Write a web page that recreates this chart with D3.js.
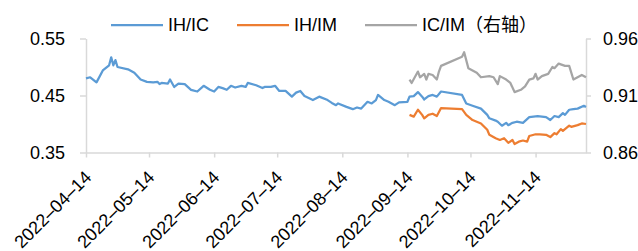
<!DOCTYPE html>
<meta charset="utf-8">
<script src="https://d3js.org/d3.v7.min.js"></script>
<style>
  body { margin: 0; background: #fff; }
  text { font-family: "Liberation Sans", Arial, sans-serif; fill: #000; }
</style>
<svg id="chart" width="638" height="251"></svg>
<script>

// IH/IC ratio (left axis)
var ihicDates = ["2022-04-14","2022-04-16","2022-04-19","2022-04-22","2022-04-25","2022-04-26","2022-04-27","2022-04-28","2022-04-29",
  "2022-05-04","2022-05-07","2022-05-10","2022-05-13","2022-05-16","2022-05-18","2022-05-19","2022-05-20","2022-05-23","2022-05-24","2022-05-26","2022-05-28","2022-05-31",
  "2022-06-03","2022-06-06","2022-06-09","2022-06-12","2022-06-14","2022-06-16","2022-06-18","2022-06-20","2022-06-22","2022-06-24","2022-06-27","2022-06-29","2022-06-30",
  "2022-07-04","2022-07-07","2022-07-08","2022-07-11","2022-07-13","2022-07-15","2022-07-18","2022-07-21","2022-07-23","2022-07-25","2022-07-27","2022-07-31",
  "2022-08-03","2022-08-07","2022-08-09","2022-08-11","2022-08-12","2022-08-16","2022-08-19","2022-08-21","2022-08-23","2022-08-26","2022-08-28","2022-08-30","2022-08-31",
  "2022-09-03","2022-09-05","2022-09-08","2022-09-10","2022-09-14","2022-09-15","2022-09-17","2022-09-19","2022-09-21","2022-09-22","2022-09-24","2022-09-26","2022-09-28","2022-09-30",
  "2022-10-10","2022-10-12","2022-10-15","2022-10-19","2022-10-22","2022-10-23","2022-10-26","2022-10-27","2022-10-29","2022-10-31",
  "2022-11-01","2022-11-03","2022-11-05","2022-11-08","2022-11-11","2022-11-15","2022-11-19","2022-11-21","2022-11-23","2022-11-25","2022-11-27","2022-11-28","2022-11-30",
  "2022-12-02","2022-12-04","2022-12-07","2022-12-08"];
var ihicValues = [0.480,0.482,0.473,0.494,0.503,0.517,0.503,0.512,0.500,
  0.496,0.490,0.478,0.474,0.473,0.474,0.470,0.472,0.471,0.478,0.465,0.471,0.470,
  0.460,0.457,0.467,0.460,0.457,0.465,0.463,0.460,0.467,0.464,0.467,0.465,0.472,
  0.468,0.463,0.465,0.465,0.467,0.458,0.458,0.448,0.455,0.458,0.449,0.442,
  0.448,0.442,0.437,0.433,0.436,0.430,0.426,0.429,0.427,0.439,0.436,0.442,0.451,
  0.442,0.439,0.433,0.438,0.439,0.448,0.449,0.456,0.448,0.443,0.449,0.451,0.448,0.457,
  0.451,0.436,0.432,0.427,0.416,0.410,0.406,0.404,0.397,0.402,
  0.398,0.402,0.404,0.402,0.412,0.414,0.412,0.407,0.414,0.412,0.419,0.416,0.425,
  0.426,0.427,0.432,0.430];

// IH/IM ratio (left axis)
var ihimDates = ["2022-09-15","2022-09-17","2022-09-19","2022-09-21","2022-09-22","2022-09-24","2022-09-26","2022-09-28","2022-09-30",
  "2022-10-10","2022-10-12","2022-10-15","2022-10-19","2022-10-22","2022-10-23","2022-10-26","2022-10-28","2022-10-30",
  "2022-11-01","2022-11-03","2022-11-04","2022-11-06","2022-11-08","2022-11-10","2022-11-11","2022-11-14","2022-11-16","2022-11-19","2022-11-21","2022-11-23","2022-11-24","2022-11-26","2022-11-27","2022-11-30",
  "2022-12-01","2022-12-04","2022-12-06","2022-12-08"];
var ihimValues = [0.416,0.413,0.425,0.416,0.410,0.416,0.418,0.414,0.428,
  0.426,0.416,0.407,0.401,0.390,0.381,0.375,0.372,0.375,
  0.367,0.372,0.365,0.369,0.371,0.369,0.379,0.382,0.382,0.381,0.377,0.384,0.382,0.391,0.388,0.397,
  0.395,0.398,0.401,0.400];

// IC/IM ratio (right axis)
var icimDates = ["2022-09-15","2022-09-16","2022-09-19","2022-09-20","2022-09-22","2022-09-23","2022-09-24","2022-09-26","2022-09-28","2022-09-29","2022-09-30",
  "2022-10-10","2022-10-11","2022-10-13","2022-10-17","2022-10-19","2022-10-23","2022-10-25","2022-10-27","2022-10-28","2022-10-31",
  "2022-11-02","2022-11-04","2022-11-07","2022-11-09","2022-11-11","2022-11-13","2022-11-14","2022-11-15","2022-11-17","2022-11-20","2022-11-22","2022-11-23","2022-11-25","2022-11-28","2022-11-30",
  "2022-12-02","2022-12-04","2022-12-06","2022-12-08"];
var icimValues = [0.924,0.921,0.931,0.926,0.929,0.924,0.929,0.928,0.924,0.931,0.936,
  0.944,0.948,0.934,0.930,0.926,0.927,0.926,0.920,0.927,0.924,
  0.921,0.913,0.915,0.918,0.924,0.925,0.929,0.924,0.927,0.929,0.935,0.934,0.938,0.936,0.936,
  0.924,0.926,0.928,0.926];

var xTickLabels = ["2022-04-14","2022-05-14","2022-06-14","2022-07-14","2022-08-14","2022-09-14","2022-10-14","2022-11-14"];
var leftTicks = [0.35, 0.45, 0.55];
var rightTicks = [0.86, 0.91, 0.96];
var seriesNames = ["IH/IC", "IH/IM", "IC/IM（右轴）"];

var svg = d3.select("#chart");
var parse = d3.timeParse("%Y-%m-%d");
var fmt = d3.timeFormat("%Y–%m–%d");
var colors = ["#5b9bd5", "#ed7d31", "#a5a5a5"];

var x = d3.scaleTime()
    .domain([parse("2022-04-14"), parse("2022-12-08")])
    .range([86, 586]);
var yL = d3.scaleLinear().domain([0.35, 0.55]).range([152.5, 38.5]);
var yR = d3.scaleLinear().domain([0.86, 0.96]).range([152.5, 38.5]);

// axes
var axisColor = "#d9d9d9";
function styleAxis(g) {
    g.selectAll("path, line").attr("stroke", axisColor).attr("stroke-width", 1.5);
    g.selectAll("text").style("font-size", "18px").attr("fill", "#000");
}

svg.append("g")
    .attr("transform", "translate(86,0)")
    .call(d3.axisLeft(yL).tickValues(leftTicks).tickFormat(d3.format(".2f")).tickSize(6).tickSizeOuter(0).tickPadding(15))
    .call(styleAxis)
    .call(function (g) { g.selectAll("text").attr("dy", "0.36em"); });

svg.append("g")
    .attr("transform", "translate(586,0)")
    .call(d3.axisRight(yR).tickValues(rightTicks).tickFormat(d3.format(".2f")).tickSize(5).tickSizeOuter(0).tickPadding(12))
    .call(styleAxis)
    .call(function (g) { g.selectAll("text").attr("dy", "0.36em"); });

var xAxis = svg.append("g")
    .attr("transform", "translate(0,152.5)")
    .call(d3.axisBottom(x).tickValues(xTickLabels.map(parse)).tickFormat(fmt).tickSize(5).tickSizeOuter(0))
    .call(styleAxis);
xAxis.selectAll("text")
    .attr("text-anchor", "end")
    .attr("dy", 0)
    .attr("y", 0)
    .attr("transform", "translate(6,26) rotate(-45)");

// lines
function drawLine(dates, values, yScale, color) {
    var pts = dates.map(function (d, i) { return { date: parse(d), v: values[i] }; });
    svg.append("path")
        .datum(pts)
        .attr("fill", "none")
        .attr("stroke", color)
        .attr("stroke-width", 2.25)
        .attr("stroke-linejoin", "round")
        .attr("d", d3.line()
            .x(function (d) { return x(d.date); })
            .y(function (d) { return yScale(d.v); }));
}
drawLine(ihicDates, ihicValues, yL, colors[0]);
drawLine(ihimDates, ihimValues, yL, colors[1]);
drawLine(icimDates, icimValues, yR, colors[2]);

// legend
var legendX = [111, 237, 365];
var legend = svg.append("g")
    .selectAll("g")
    .data(seriesNames)
    .enter()
    .append("g")
    .attr("transform", function (d, i) { return "translate(" + legendX[i] + ",25)"; });
legend.append("line")
    .attr("x1", 0).attr("x2", 52)
    .attr("stroke", function (d, i) { return colors[i]; })
    .attr("stroke-width", 2.25);
legend.append("text")
    .attr("x", 57)
    .attr("dy", "0.36em")
    .style("font-size", "18px")
    .style("font-family", "'Liberation Sans', 'Noto Sans CJK SC', sans-serif")
    .text(function (d) { return d; });

</script>
